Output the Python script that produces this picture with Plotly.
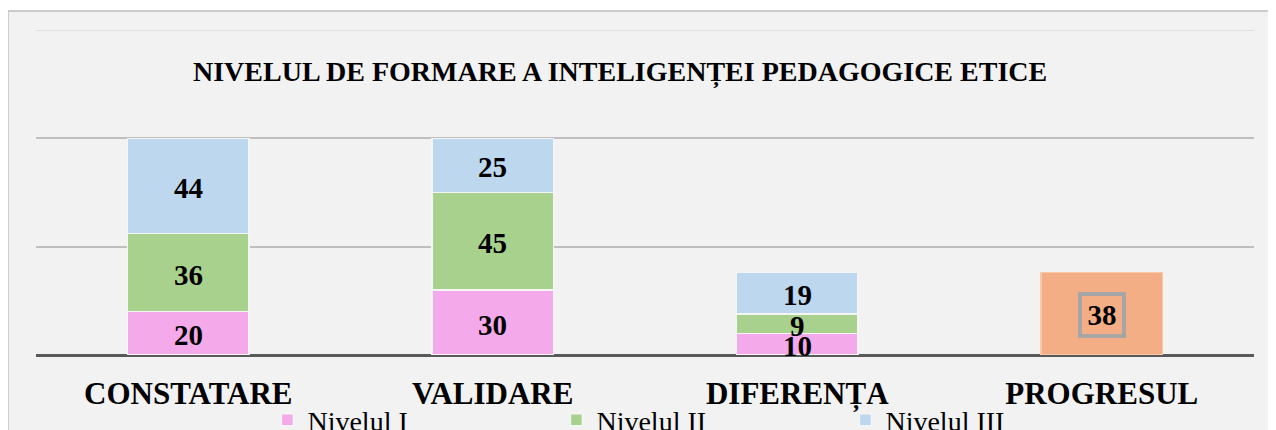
import plotly.graph_objects as go

categories = ["CONSTATARE", "VALIDARE", "DIFERENȚA", "PROGRESUL"]
stack_cats = ["CONSTATARE", "VALIDARE", "DIFERENȚA"]
nivel_1 = [20, 30, 10]
nivel_2 = [36, 45, 9]
nivel_3 = [44, 25, 19]
progres = [38]
series_names = ["Nivelul I", "Nivelul II", "Nivelul III"]
colors = ["#f4a9ea", "#a9d18e", "#bdd7ee"]
title_text = "NIVELUL DE FORMARE A INTELIGENȚEI PEDAGOGICE ETICE"

SERIF = "Liberation Serif, Times New Roman, serif"

fig = go.Figure()
series = [nivel_1, nivel_2, nivel_3]
for name, vals, col in zip(series_names, series, colors):
    fig.add_trace(go.Bar(
        x=stack_cats, y=vals, name=name,
        marker=dict(color=col, line=dict(color="#f5f5f5", width=1.5)),
        hoverinfo="x+y+name",
    ))
fig.add_trace(go.Bar(
    x=["PROGRESUL"], y=progres, name="Progresul", showlegend=False,
    marker=dict(color="#f4ae85", line=dict(color="#f8c8a8", width=1.5)),
))

annotations = []
# labels at the middle of each stacked segment
for i, cat in enumerate(stack_cats):
    base = 0
    for vals in series:
        v = vals[i]
        annotations.append(dict(
            x=cat, y=base + v / 2, xref="x", yref="y", text=f"<b>{v}</b>",
            showarrow=False, yshift=-2,
            font=dict(family=SERIF, size=29, color="black"),
        ))
        base += v
annotations.append(dict(
    x="PROGRESUL", y=progres[0] / 2, xref="x", yref="y", text=f"<b>{progres[0]}</b>",
    showarrow=False, font=dict(family=SERIF, size=29, color="black"),
    width=38, height=36, yshift=-1,
    bgcolor="#f4ae85", bordercolor="#a6a6a6", borderwidth=4, borderpad=1,
))
annotations.append(dict(
    x=0.4795, y=0.868, xref="paper", yref="paper", text=f"<b>{title_text}</b>",
    showarrow=False, xanchor="center", yanchor="middle",
    font=dict(family=SERIF, size=28, color="black"),
))

shapes = [
    # chart area background
    dict(type="rect", xref="paper", yref="paper", x0=-0.023, x1=1.03, y0=-0.35, y1=1.0585,
         fillcolor="#f2f2f2", line=dict(color="#bfbfbf", width=1.5), layer="below"),
    # top light gridline
    dict(type="line", xref="paper", yref="y", x0=0, x1=1, y0=150, y1=150,
         line=dict(color="#d9d9d9", width=1.5), layer="below"),
]

fig.update_layout(
    width=1276, height=430,
    margin=dict(l=28, r=30, t=22, b=83, autoexpand=False),
    paper_bgcolor="white", plot_bgcolor="rgba(0,0,0,0)",
    barmode="stack", bargap=0.6,
    showlegend=True,
    legend=dict(orientation="h", x=0.19, y=-0.2, xanchor="left", yanchor="middle",
                font=dict(family=SERIF, size=28, color="black"),
                entrywidth=244, entrywidthmode="pixels", traceorder="normal",
                bgcolor="rgba(0,0,0,0)", itemclick=False),
    annotations=annotations,
    shapes=shapes,
    xaxis=dict(categoryorder="array", categoryarray=categories,
               tickfont=dict(family=SERIF, size=31, color="black"),
               tickprefix="<b>", ticksuffix="</b>", ticklabelstandoff=17,
               showgrid=False, showline=False, ticks=""),
    yaxis=dict(range=[0, 150], tickvals=[0, 50, 100], showticklabels=False,
               showgrid=True, gridcolor="#bfbfbf", gridwidth=1.5,
               zeroline=True, zerolinecolor="#595959", zerolinewidth=3,
               fixedrange=True),
)

fig.write_html("out.html")
